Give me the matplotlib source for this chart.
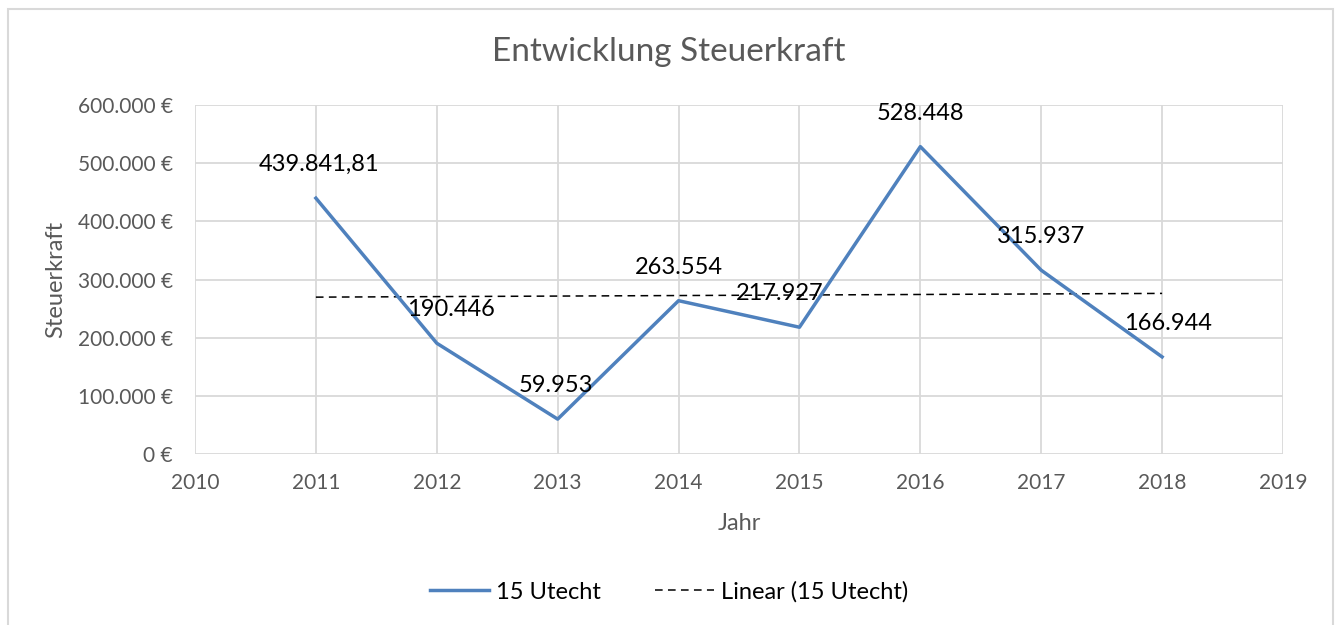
'''
Line chart of the yearly Steuerkraft for 15 Utecht, with a linear trend line.
'''

import numpy as np
import matplotlib.pyplot as plt
from matplotlib.ticker import FuncFormatter
from matplotlib.patches import Rectangle

years = [2011, 2012, 2013, 2014, 2015, 2016, 2017, 2018]
steuerkraft = [439841.81, 190446, 59953, 263554, 217927, 528448, 315937, 166944]
point_labels = ['439.841,81', '190.446', '59.953', '263.554',
                '217.927', '528.448', '315.937', '166.944']
series_name = '15 Utecht'

# nudges of the data labels (points), as placed in the original
label_dx = [2, 10, -1, 0, -14, 0, 0, 4]
label_dy = 24

plt.rcParams['font.family'] = ['Lato', 'DejaVu Sans']
grey = '#595959'
blue = '#4F81BD'

fig = plt.figure(figsize=(13.38, 6.25), dpi=100)
ax = fig.add_axes([195 / 1338, 1 - 454 / 625, 1088 / 1338, 349 / 625])

# outer chart border
fig.patches.append(Rectangle((8 / 1338, -0.01), 1325 / 1338, 1 - 9 / 625 + 0.01,
                             transform=fig.transFigure, fill=False,
                             edgecolor='#D9D9D9', linewidth=1.5))

ax.plot(years, steuerkraft, color=blue, linewidth=2.5,
        solid_joinstyle='round', label=series_name, zorder=3)

# linear trend line like Excel
coef = np.polyfit(years, steuerkraft, 1)
trend = np.polyval(coef, years)
ax.plot(years, trend, color='black', linewidth=1.1, linestyle=(0, (5, 3.5)),
        label=f'Linear ({series_name})', zorder=2)

for x, y, txt, dx in zip(years, steuerkraft, point_labels, label_dx):
    ax.annotate(txt, (x, y), xytext=(dx, label_dy), textcoords='offset points',
                ha='center', va='center', fontsize=17, color='black', zorder=4)

ax.set_xlim(2010, 2019)
ax.set_ylim(0, 600000)
ax.set_xticks(range(2010, 2020))
ax.set_yticks(range(0, 600001, 100000))
ax.yaxis.set_major_formatter(FuncFormatter(
    lambda v, p: f'{int(v):,} €'.replace(',', '.')))

ax.grid(True, color='#D9D9D9', linewidth=1.3)
ax.set_axisbelow(True)
for s in ax.spines.values():
    s.set_visible(False)
ax.tick_params(length=0, labelsize=15, colors=grey)
ax.tick_params(axis='x', pad=14)
ax.tick_params(axis='y', pad=16)

fig.text(0.5, 1 - 52 / 625, 'Entwicklung Steuerkraft', fontsize=24,
         color=grey, ha='center', va='center')
ax.set_xlabel('Jahr', fontsize=17, color=grey, labelpad=14)
ax.set_ylabel('Steuerkraft', fontsize=17, color=grey, labelpad=8)

fig.legend(loc='center', bbox_to_anchor=(0.5, 1 - 592 / 625), ncol=2,
           frameon=False, fontsize=17, handlelength=2.5, columnspacing=2.3,
           handletextpad=0.3)

fig.savefig('out.png', dpi=100)
